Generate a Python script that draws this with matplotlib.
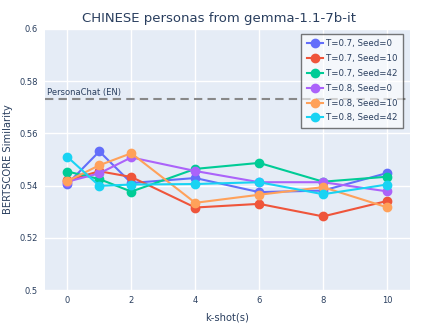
import numpy as np
import matplotlib
matplotlib.use('Agg')
import matplotlib.pyplot as plt

# data
kshots = [0, 1, 2, 4, 6, 8, 10]
labels = ['T=0.7, Seed=0', 'T=0.7, Seed=10', 'T=0.7, Seed=42',
          'T=0.8, Seed=0', 'T=0.8, Seed=10', 'T=0.8, Seed=42']
t07_s0 = [0.5406, 0.5531, 0.5410, 0.5429, 0.5375, 0.5381, 0.5448]
t07_s10 = [0.5420, 0.5455, 0.5433, 0.5316, 0.5330, 0.5282, 0.5341]
t07_s42 = [0.5454, 0.5425, 0.5377, 0.5464, 0.5487, 0.5415, 0.5434]
t08_s0 = [0.5415, 0.5447, 0.5508, 0.5456, 0.5413, 0.5413, 0.5378]
t08_s10 = [0.5417, 0.5478, 0.5524, 0.5334, 0.5365, 0.5394, 0.5317]
t08_s42 = [0.5510, 0.5399, 0.5404, 0.5406, 0.5413, 0.5367, 0.5404]
series = [t07_s0, t07_s10, t07_s42, t08_s0, t08_s10, t08_s42]
ref_value = 0.5732
ref_label = 'PersonaChat (EN)'

colors = ['#636EFA', '#EF553B', '#00CC96', '#AB63FA', '#FFA15A', '#19D3F3']
txt = '#2a3f5f'

fig = plt.figure(figsize=(4.39, 3.29), dpi=100)
ax = fig.add_axes([45/439, 1 - 290/329, 365/439, 261/329])
ax.set_facecolor('#E5ECF6')
for s in ax.spines.values():
    s.set_visible(False)
ax.grid(True, color='white', linewidth=1.0)
ax.set_axisbelow(True)

ax.axhline(ref_value, color='#888888', linestyle=(0, (4, 2.5)), linewidth=1.5, zorder=1)
ax.text(-0.65, ref_value + 0.0008, ref_label, fontsize=6, color=txt, va='bottom', ha='left')

for y, c, lbl in zip(series, colors, labels):
    ax.plot(kshots, y, color=c, marker='o', markersize=6, linewidth=1.5, label=lbl, zorder=3)

ax.set_xlim(-0.7, 10.72)
ax.set_ylim(0.5, 0.6)
ax.set_xticks([0, 2, 4, 6, 8, 10])
ax.set_yticks([0.5, 0.52, 0.54, 0.56, 0.58, 0.6])
ax.set_yticklabels(['0.5', '0.52', '0.54', '0.56', '0.58', '0.6'])
ax.tick_params(axis='x', length=0, labelsize=6, labelcolor=txt, pad=4)
ax.tick_params(axis='y', length=0, labelsize=6, labelcolor=txt, pad=5)
ax.set_xlabel('k-shot(s)', fontsize=7.2, color=txt, labelpad=6)
ax.set_ylabel('BERTSCORE Similarity', fontsize=7.2, color=txt, labelpad=5)
fig.suptitle('CHINESE personas from gemma-1.1-7b-it', fontsize=9.5, color=txt, y=0.965)

leg = ax.legend(loc='upper right', bbox_to_anchor=(1.0 - 7/365, 1.0 - 5/261), fontsize=6.2,
                frameon=True, fancybox=False, framealpha=0.6, edgecolor='#222222',
                handlelength=1.9, borderpad=0.6, labelspacing=0.68, handletextpad=0.4,
                borderaxespad=0, labelcolor=txt)
leg.get_frame().set_linewidth(1.0)

fig.savefig('out.png', dpi=100)
